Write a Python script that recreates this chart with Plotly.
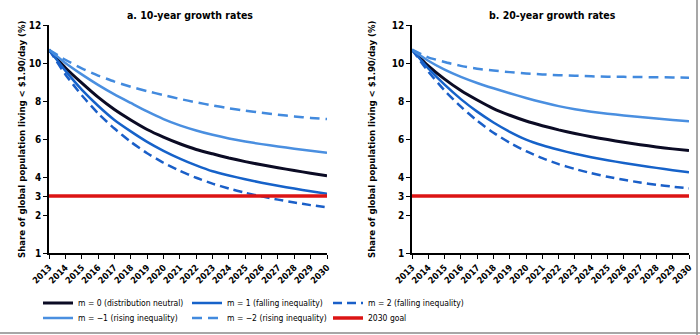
import plotly.graph_objects as go

# Years covered by the projections
years = list(range(2013, 2031))

# Panel a: 10-year growth rates, poverty share (%) by inequality scenario
a_m0 = [10.7, 9.75, 8.95, 8.2, 7.55, 7.0, 6.5, 6.1, 5.75, 5.45, 5.22, 5.0, 4.81, 4.64, 4.49, 4.34, 4.2, 4.07]
a_m1 = [10.7, 9.6, 8.6, 7.75, 7.0, 6.4, 5.85, 5.38, 4.97, 4.61, 4.3, 4.08, 3.88, 3.7, 3.54, 3.39, 3.25, 3.12]
a_m2 = [10.7, 9.4, 8.3, 7.35, 6.55, 5.85, 5.25, 4.75, 4.33, 3.96, 3.65, 3.39, 3.17, 2.98, 2.81, 2.66, 2.52, 2.4]
a_mn1 = [10.7, 10.0, 9.4, 8.85, 8.35, 7.9, 7.45, 7.05, 6.72, 6.45, 6.22, 6.03, 5.87, 5.73, 5.61, 5.49, 5.38, 5.28]
a_mn2 = [10.7, 10.17, 9.72, 9.34, 9.02, 8.75, 8.52, 8.31, 8.11, 7.93, 7.77, 7.62, 7.49, 7.38, 7.28, 7.19, 7.11, 7.05]

# Panel b: 20-year growth rates
b_m0 = [10.7, 9.85, 9.15, 8.55, 8.05, 7.6, 7.25, 6.95, 6.7, 6.48, 6.29, 6.12, 5.97, 5.83, 5.7, 5.58, 5.48, 5.39]
b_m1 = [10.7, 9.72, 8.86, 8.1, 7.44, 6.87, 6.38, 5.97, 5.67, 5.43, 5.22, 5.04, 4.88, 4.74, 4.61, 4.48, 4.36, 4.25]
b_m2 = [10.7, 9.55, 8.55, 7.7, 6.96, 6.33, 5.8, 5.36, 4.99, 4.68, 4.42, 4.2, 4.01, 3.85, 3.71, 3.59, 3.49, 3.4]
b_mn1 = [10.7, 10.12, 9.65, 9.27, 8.95, 8.67, 8.41, 8.16, 7.93, 7.73, 7.57, 7.44, 7.33, 7.24, 7.16, 7.08, 7.0, 6.93]
b_mn2 = [10.7, 10.3, 10.05, 9.85, 9.7, 9.6, 9.52, 9.45, 9.4, 9.36, 9.33, 9.3, 9.28, 9.27, 9.26, 9.25, 9.24, 9.23]

# 2030 poverty goal (%)
goal = 3.0

# Y axis ticks (bottom of the scale is labelled 1)
y_tickvals = [0, 2, 3, 4, 6, 8, 10, 12]
y_ticktext = ["1", "2", "3", "4", "6", "8", "10", "12"]

panel_titles = ["a. 10-year growth rates", "b. 20-year growth rates"]
y_title = "Share of global population living < $1.90/day (%)"

series_names = [
    "m = 0 (distribution neutral)",
    "m = 1 (falling inequality)",
    "m = 2 (falling inequality)",
    "m = \u22121 (rising inequality)",
    "m = \u22122 (rising inequality)",
]
goal_name = "2030 goal"

FONT = "Liberation Sans Narrow, DejaVu Sans Condensed, Arial Narrow, sans-serif"
W, H = 700, 335

styles = [
    dict(color="#0b0b24", width=3, dash="solid"),
    dict(color="#1662c9", width=2.5, dash="solid"),
    dict(color="#1a5fc8", width=2.5, dash="9px,5px"),
    dict(color="#4a8fe0", width=2.5, dash="solid"),
    dict(color="#428ade", width=2.5, dash="10px,6px"),
]
# legend row and column of each scenario (goal sits in row 2, column 3)
legend_of = ["legend", "legend", "legend", "legend2", "legend2"]
col_width = [104, 96, 96]
col_of = [0, 1, 2, 0, 1]

fig = go.Figure()

panels = [
    (a_m0, a_m1, a_m2, a_mn1, a_mn2),
    (b_m0, b_m1, b_m2, b_mn1, b_mn2),
]

for p, data in enumerate(panels):
    xa = "x" if p == 0 else "x2"
    ya = "y" if p == 0 else "y2"
    # goal line first so scenario curves sit on top
    fig.add_trace(go.Scatter(
        x=[years[0], years[-1]], y=[goal, goal], mode="lines",
        line=dict(color="#dc1414", width=3.5),
        name=goal_name, legend="legend2", legendwidth=col_width[2],
        showlegend=(p == 0), xaxis=xa, yaxis=ya,
    ))
    for i, vals in enumerate(data):
        fig.add_trace(go.Scatter(
            x=years, y=vals, mode="lines",
            line=dict(shape="spline", smoothing=0.5, **styles[i]),
            name=series_names[i], legend=legend_of[i],
            legendwidth=col_width[col_of[i]],
            showlegend=(p == 0), xaxis=xa, yaxis=ya,
        ))

# keep legend rows in a fixed order: m=0, m=1, m=2 / m=-1, m=-2, goal
order = [1, 2, 3, 4, 5, 0]
fig.data = tuple(fig.data[k] for k in order) + tuple(fig.data[6:])

x_domains = [[49 / W, 327 / W], [412 / W, 689 / W]]
y_domain = [1 - 253 / H, 1 - 25 / H]

axis_common = dict(
    showline=True, linecolor="black", linewidth=1.6,
    ticks="outside", ticklen=4, tickwidth=1.4, tickcolor="black",
    showgrid=False, zeroline=False, automargin=False,
    tickfont=dict(family=FONT, size=10, color="black", weight="bold"),
)

for p in range(2):
    sfx = "" if p == 0 else "2"
    fig.layout["xaxis" + sfx] = dict(
        axis_common, domain=x_domains[p], range=[2013, 2030],
        tickvals=years, tickangle=-45, anchor="y" + sfx,
        tickfont=dict(family=FONT, size=9, color="black", weight="bold"),
    )
    fig.layout["yaxis" + sfx] = dict(
        axis_common, domain=y_domain, range=[0, 12],
        tickvals=y_tickvals, ticktext=y_ticktext, anchor="x" + sfx,
    )

annotations = []
title_x = [190, 552]
ytitle_x = [22, 372]
for p in range(2):
    annotations.append(dict(
        text="<b>%s</b>" % panel_titles[p], x=title_x[p] / W, y=1 - 15 / H,
        xref="paper", yref="paper", showarrow=False, xanchor="center", yanchor="middle",
        font=dict(family=FONT, size=10.5, color="black"),
    ))
    annotations.append(dict(
        text="<b>%s</b>" % y_title, x=ytitle_x[p] / W, y=1 - 139 / H,
        xref="paper", yref="paper", showarrow=False, textangle=-90,
        xanchor="center", yanchor="middle",
        font=dict(family=FONT, size=9.5, color="black"),
    ))

legend_common = dict(
    orientation="h", xanchor="left", yanchor="middle", x=38 / W,
    bgcolor="rgba(0,0,0,0)", itemwidth=30, tracegroupgap=0,
    font=dict(family=FONT, size=8.5, color="black"),
)

fig.update_layout(
    width=W, height=H, margin=dict(l=0, r=0, t=0, b=0),
    paper_bgcolor="white", plot_bgcolor="white",
    annotations=annotations,
    legend=dict(legend_common, y=1 - 303 / H),
    legend2=dict(legend_common, y=1 - 318 / H),
    shapes=[
        dict(type="line", xref="paper", yref="paper", x0=697 / W, x1=697 / W, y0=0, y1=1,
             line=dict(color="#8a8a8a", width=1.5)),
        dict(type="line", xref="paper", yref="paper", x0=0, x1=1, y0=1 - 333 / H, y1=1 - 333 / H,
             line=dict(color="#8a8a8a", width=1.5)),
    ],
)

fig.write_html("out.html")
